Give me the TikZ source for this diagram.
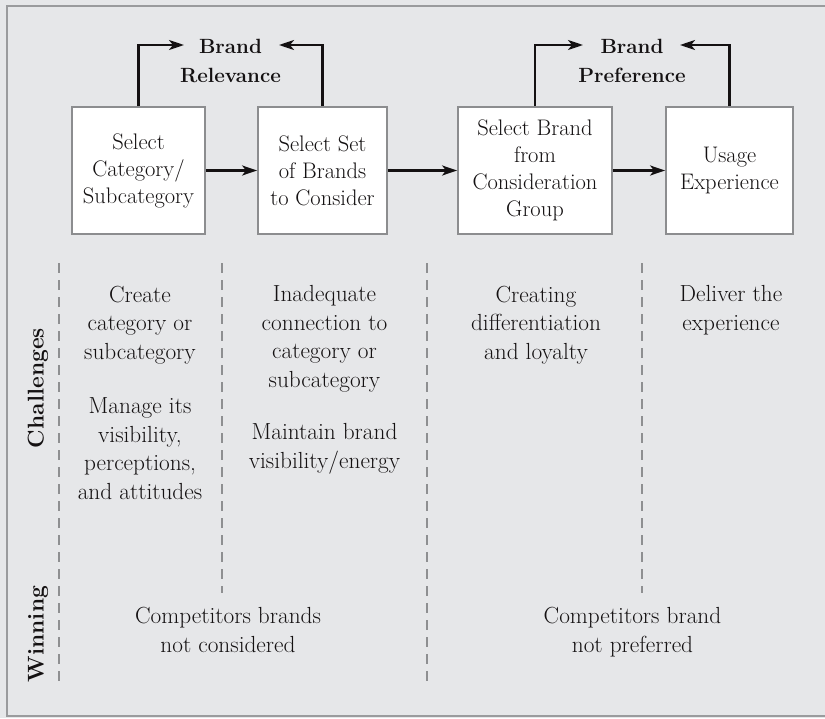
\documentclass[tikz,border=0pt]{standalone}
\usepackage{fontspec}
\usetikzlibrary{arrows.meta}
\definecolor{bg}{HTML}{E6E7E9}
\definecolor{frame}{HTML}{9A9B9D}
\definecolor{boxline}{HTML}{8C8D8F}
\definecolor{dash}{HTML}{8E8F91}
\definecolor{ink}{HTML}{141112}
\tikzset{
  stagebox/.style={draw=boxline, line width=1.8pt, fill=white, inner sep=0pt, align=center, text=ink,
    font=\fontsize{22.5}{27}\selectfont},
  arr/.style={draw=ink, line width=2.2pt, -{Stealth[length=15pt,width=10pt,inset=4pt]}},
  goal/.style={align=center, text=ink, inner sep=0pt, anchor=base, font=\fontsize{20.6}{29}\selectfont\bfseries},
  coltext/.style={align=center, text=ink, inner sep=0pt, anchor=base, font=\fontsize{23.3}{28.5}\selectfont},
  rowlabel/.style={rotate=90, text=ink, inner sep=0pt, font=\fontsize{22.8}{26}\selectfont\bfseries},
  sep/.style={draw=dash, line width=1.8pt, dash pattern=on 10pt off 7pt},
}
\begin{document}
\begin{tikzpicture}[x=1pt,y=-1pt]
\useasboundingbox (0,0) rectangle (825,718);
\fill[bg] (0,0) rectangle (825,718);
\draw[frame, line width=2pt] (6.5,6) rectangle (830,716);

% stage boxes
\node[stagebox, minimum width=133pt, minimum height=127pt] (b1) at (138.5,170.5) {Select\\Category/\\Subcategory};
\node[stagebox, minimum width=129pt, minimum height=127pt] (b2) at (322.5,170.5) {Select Set\\of Brands\\to Consider};
\node[stagebox, minimum width=154pt, minimum height=127pt] (b3) at (535,170.5) {Select Brand\\from\\Consideration\\Group};
\node[stagebox, minimum width=127pt, minimum height=127pt] (b4) at (729.5,170.5) {Usage\\Experience};

\draw[arr] (b1.east) -- (b2.west);
\draw[arr] (b2.east) -- (b3.west);
\draw[arr] (b3.east) -- (b4.west);

% goals
\node[goal] (rel) at (230.5,82) {Brand\\Relevance};
\node[goal] (pref) at (632,82) {Brand\\Preference};
\coordinate (r1) at (184,45);
\coordinate (r2) at (279,45);
\coordinate (p1) at (583,45);
\coordinate (p2) at (680,45);
\draw[arr] (b1.north) |- (r1);
\draw[arr] (b2.north) |- (r2);
\draw[arr] (b3.north) |- (p1);
\draw[arr] (b4.north) |- (p2);

% separators
\coordinate (s1t) at (59,263);  \coordinate (s1b) at (59,683);
\coordinate (s2t) at (222,263); \coordinate (s2b) at (222,593);
\coordinate (s3t) at (427,263); \coordinate (s3b) at (427,683);
\coordinate (s4t) at (642,263); \coordinate (s4b) at (642,593);
\draw[sep] (s1t) -- (s1b);
\draw[sep] (s2t) -- (s2b);
\draw[sep] (s3t) -- (s3b);
\draw[sep] (s4t) -- (s4b);

% row labels
\node[rowlabel] (lc) at (38,388) {Challenges};
\node[rowlabel] (lw) at (38,634) {Winning};

% challenges (anchored at the baseline of the last line)
\node[coltext] (c1a) at (140,359) {Create\\category or\\subcategory};
\node[coltext] (c1b) at (140,499) {Manage its\\visibility,\\perceptions,\\and attitudes};
\node[coltext] (c2a) at (324.5,387) {Inadequate\\connection to\\category or\\subcategory};
\node[coltext] (c2b) at (324.5,468) {Maintain brand\\visibility/energy};
\node[coltext] (c3) at (536,359) {Creating\\differentiation\\and loyalty};
\node[coltext] (c4) at (731,330) {Deliver the\\experience};

% winning
\node[coltext] (w1) at (228,652) {Competitors brands\\not considered};
\node[coltext] (w2) at (632.5,652) {Competitors brand\\not preferred};
\end{tikzpicture}
\end{document}
